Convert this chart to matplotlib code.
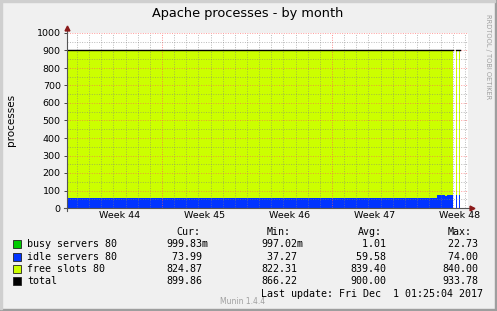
import numpy as np
import matplotlib
matplotlib.use('Agg')
import matplotlib.pyplot as plt
from matplotlib.patches import Rectangle
from matplotlib.ticker import MultipleLocator, FixedLocator

# time axis in days, red grid lines sit on day 14 and day 28
t_main = [6.18, 7, 8, 9, 10, 11, 12, 13, 14, 15, 16, 17, 18, 19, 20, 21, 22, 23,
          24, 25, 26, 27, 28, 29, 30, 31, 32, 33, 34, 35, 36, 36.65, 37.3, 37.45, 37.97]
busy = [1.0] * len(t_main)
idle = [58, 57, 58, 58, 57, 58, 57, 58, 58, 57, 58, 57, 58, 58, 57, 58, 57, 58,
        58, 57, 58, 57, 58, 58, 57, 58, 57, 58, 58, 57, 58, 74, 68, 74, 74]
total_level = [900.0] * len(t_main)

# total line with its small bumps
total_t = [6.18, 13.2, 13.4, 14.35, 14.55, 16.0, 16.2, 21.95, 22.15, 26.55, 26.75,
           34.25, 34.45, 36.6, 36.8, 37.25, 37.45, 37.97]
total_v = [900, 903, 900, 903, 900, 903, 900, 902, 900, 902, 900,
           903, 900, 903, 900, 903, 900, 900]

# last few samples after the gap
spike_t = [38.27, 38.5]
spike_busy = [1, 1]
spike_idle = [74, 74]
spike_free = [825, 825]
spike_total_t = [38.2, 38.35, 38.56]
spike_total_v = [904, 900, 900]

week_pos = [10.5, 17.5, 24.5, 31.5, 38.5]
week_labels = ['Week 44', 'Week 45', 'Week 46', 'Week 47', 'Week 48']

legend_names = ['busy servers 80', 'idle servers 80', 'free slots 80', 'total']
legend_colors = ['#00cc00', '#0033ff', '#ccff00', '#000000']
cur = ['999.83m', ' 73.99', '824.87', '899.86']
mn = ['997.02m', ' 37.27', '822.31', '866.22']
avg = ['  1.01', ' 59.58', '839.40', '900.00']
mx = [' 22.73', ' 74.00', '840.00', '933.78']

W, H = 497, 311
fig = plt.figure(figsize=(W / 100, H / 100), dpi=100, facecolor='#f0f0f0')

# shaded frame
fig.patches.append(Rectangle((0, 0), 1, 2 / H, transform=fig.transFigure, color='#9e9e9e', zorder=-1))
fig.patches.append(Rectangle((1 - 2 / W, 0), 2 / W, 1, transform=fig.transFigure, color='#9e9e9e', zorder=-1))
fig.patches.append(Rectangle((0, 1 - 2 / H), 1 - 2 / W, 2 / H, transform=fig.transFigure, color='#cfcfcf', zorder=-1))
fig.patches.append(Rectangle((0, 2 / H), 2 / W, 1 - 2 / H, transform=fig.transFigure, color='#cfcfcf', zorder=-1))

ax = fig.add_axes([67 / W, (H - 208) / H, 401 / W, 175 / H])
ax.set_facecolor('white')

t = np.array(t_main)
b = np.array(busy)
i = b + np.array(idle)
tot = np.array(total_level)
ax.fill_between(t, 0, b, step='post', color=legend_colors[0], lw=0, zorder=1)
ax.fill_between(t, b, i, step='post', color=legend_colors[1], lw=0, zorder=1)
ax.fill_between(t, i, tot, step='post', color=legend_colors[2], lw=0, zorder=1)

sb = np.array(spike_busy)
si = np.array(spike_idle)
ax.bar(spike_t, sb, width=0.1, color=legend_colors[0], lw=0, zorder=1)
ax.bar(spike_t, si, bottom=sb, width=0.1, color=legend_colors[1], lw=0, zorder=1)
ax.bar(spike_t, spike_free, bottom=sb + si, width=0.1, color=legend_colors[2], lw=0, zorder=1)

ax.step(total_t, total_v, where='post', color='black', lw=1.0, zorder=4)
ax.step(spike_total_t, spike_total_v, where='post', color='black', lw=1.0, zorder=4)

ax.set_xlim(6.175, 39.206)
ax.set_ylim(0, 1000)

# grid drawn over the data like rrdtool does
for d in range(7, 40):
    c = (1.0, 0.35, 0.35, 0.7) if d in (14, 28) else (0.5, 0.5, 0.5, 0.55)
    ax.axvline(d, color=c, lw=0.7, ls=(0, (1, 1.5)), zorder=3)
for v in range(50, 1001, 50):
    c = (1.0, 0.35, 0.35, 0.6) if v % 100 == 0 else (0.5, 0.5, 0.5, 0.55)
    ax.axhline(v, color=c, lw=0.7, ls=(0, (1, 1.5)), zorder=3)

ax.yaxis.set_major_locator(MultipleLocator(100))
ax.xaxis.set_major_locator(FixedLocator(week_pos))
ax.set_xticklabels(week_labels)
ax.tick_params(axis='x', length=0, labelsize=6.8, pad=2.5)
ax.tick_params(axis='y', length=2.5, width=0.7, color='#444444', labelsize=6.8, pad=2)
for s in ax.spines.values():
    s.set_visible(False)

# axes with arrow heads
ax.plot([0, 0], [-0.015, 1.025], transform=ax.transAxes, color='#555555', lw=0.8, clip_on=False, zorder=5)
ax.plot([-0.008, 1.005], [0, 0], transform=ax.transAxes, color='#555555', lw=0.8, clip_on=False, zorder=5)
ax.plot([0], [1.03], marker='^', ms=3.5, color='#8b1a1a', transform=ax.transAxes, clip_on=False, zorder=6)
ax.plot([1.01], [0], marker='>', ms=3.5, color='#8b1a1a', transform=ax.transAxes, clip_on=False, zorder=6)

fig.text(11 / W, 1 - 120 / H, 'processes', rotation=90, ha='center', va='center', fontsize=7.5)

fig.text(248 / W, 1 - 14 / H, 'Apache processes - by month', ha='center', va='center', fontsize=9.3)
fig.text(488 / W, 1 - 57 / H, 'RRDTOOL / TOBI OETIKER', rotation=270, ha='center', va='center',
         fontsize=4.8, color='#a0a0a0')
fig.text(243 / W, 1 - 301 / H, 'Munin 1.4.4', ha='center', va='center', fontsize=5.5, color='#a0a0a0')

mono = 'DejaVu Sans Mono'
fs = 7.2
fig.text(176 / W, 1 - 232 / H, 'Cur:', family=mono, fontsize=fs, va='center')
fig.text(267 / W, 1 - 232 / H, 'Min:', family=mono, fontsize=fs, va='center')
fig.text(358 / W, 1 - 232 / H, 'Avg:', family=mono, fontsize=fs, va='center')
fig.text(448 / W, 1 - 232 / H, 'Max:', family=mono, fontsize=fs, va='center')

rows_y = [244, 256.5, 269, 281]
for k in range(4):
    y = 1 - rows_y[k] / H
    fig.patches.append(Rectangle((13 / W, y - 4 / H), 8 / W, 8 / H, transform=fig.transFigure,
                                 facecolor=legend_colors[k], edgecolor='#222222', lw=0.6))
    fig.text(27 / W, y, legend_names[k], family=mono, fontsize=fs, va='center')
    fig.text(166 / W, y, cur[k], family=mono, fontsize=fs, va='center')
    fig.text(261 / W, y, mn[k], family=mono, fontsize=fs, va='center')
    fig.text(350 / W, y, avg[k], family=mono, fontsize=fs, va='center')
    fig.text(442 / W, y, mx[k], family=mono, fontsize=fs, va='center')

fig.text(261 / W, 1 - 294 / H, 'Last update: Fri Dec  1 01:25:04 2017', family=mono, fontsize=fs, va='center')

fig.savefig('out.png', dpi=100, facecolor=fig.get_facecolor())
